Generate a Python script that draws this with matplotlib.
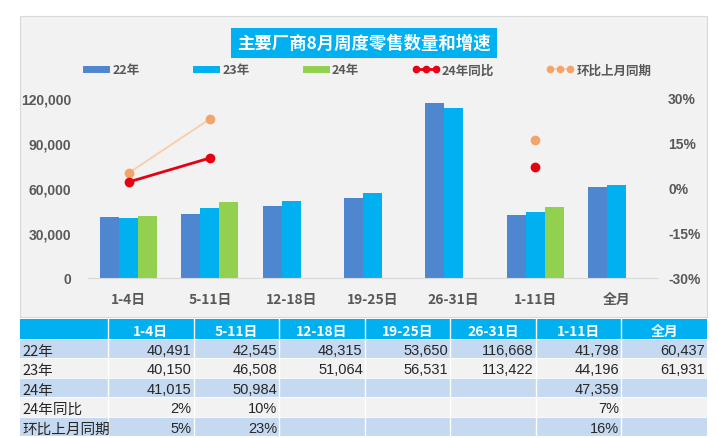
import numpy as np
import matplotlib

matplotlib.use("Agg")
import matplotlib.pyplot as plt
from matplotlib.lines import Line2D
from matplotlib.patches import Rectangle

plt.rcParams["font.family"] = ["Liberation Sans", "Noto Sans CJK SC", "DejaVu Sans"]

title = "主要厂商8月周度零售数量和增速"
categories = ["1-4日", "5-11日", "12-18日", "19-25日", "26-31日", "1-11日", "全月"]
sales_22 = [40491, 42545, 48315, 53650, 116668, 41798, 60437]
sales_23 = [40150, 46508, 51064, 56531, 113422, 44196, 61931]
sales_24 = [41015, 50984, None, None, None, 47359, None]
yoy_24 = [0.02, 0.10, None, None, None, 0.07, None]
mom = [0.05, 0.23, None, None, None, 0.16, None]
row_names = ["22年", "23年", "24年", "24年同比", "环比上月同期"]

C22, C23, C24 = "#4f86d0", "#00b0f0", "#92d050"
RED, ORANGE, PEACH = "#e60012", "#f4a46a", "#f8cdaa"
TXT = "#595959"
CJK = ["Noto Sans CJK SC", "DejaVu Sans"]

W, H = 718, 439
fig = plt.figure(figsize=(W / 100, H / 100), dpi=100)
fig.patch.set_facecolor("white")

# gray panel behind the chart
fig.patches.append(Rectangle((20 / W, 1 - 318 / H), 687 / W, 301 / H,
                             transform=fig.transFigure, facecolor="#f2f2f2",
                             edgecolor="#d9d9d9", lw=0.8, zorder=-5))

ax = fig.add_axes([88 / W, 160 / H, 569 / W, 180 / H])
ax.set_facecolor("none")
x = np.arange(len(categories))
bw = 0.234


def nums(vals):
    return np.array([np.nan if v is None else v for v in vals], dtype=float)


ax.bar(x - bw, sales_22, bw, color=C22, zorder=2)
ax.bar(x, sales_23, bw, color=C23, zorder=2)
ax.bar(x + bw, nums(sales_24), bw, color=C24, zorder=2)
ax.set_xlim(-0.5, 6.5)
ax.set_ylim(0, 120000)
ax.set_yticks(np.arange(0, 120001, 30000))
ax.set_yticklabels([f"{v:,}" for v in range(0, 120001, 30000)])
ax.set_xticks(x)
ax.set_xticklabels(categories)
for s in ["top", "left", "right"]:
    ax.spines[s].set_visible(False)
ax.spines["bottom"].set_color("#d9d9d9")
ax.tick_params(length=0, colors=TXT, labelsize=10)
ax.tick_params(axis="y", pad=12)
ax.tick_params(axis="x", pad=10)
for lbl in ax.get_xticklabels() + ax.get_yticklabels():
    lbl.set_fontweight("bold")
for lbl in ax.get_xticklabels():
    lbl.set_family(CJK)

ax2 = ax.twinx()
ax2.set_ylim(-0.3, 0.3)
ax2.set_yticks([-0.3, -0.15, 0, 0.15, 0.3])
ax2.set_yticklabels(["-30%", "-15%", "0%", "15%", "30%"])
for s in ax2.spines.values():
    s.set_visible(False)
ax2.tick_params(length=0, colors=TXT, labelsize=10, pad=8)
for lbl in ax2.get_yticklabels():
    lbl.set_fontweight("bold")
ax2.plot(x, nums(mom), color=PEACH, lw=1.3, marker="o", ms=6,
         mfc=ORANGE, mec=ORANGE, zorder=3)
ax2.plot(x, nums(yoy_24), color=RED, lw=2, marker="o", ms=6,
         mfc=RED, mec=RED, zorder=4)

# title box
fig.text(364 / W, 1 - 44 / H, title, ha="center", va="center", color="white",
         fontsize=12.5, fontweight="bold", family=CJK,
         bbox=dict(boxstyle="square,pad=0.35", fc="#00b0f0", ec="none"))

handles = [
    Line2D([], [], color=C22, lw=5),
    Line2D([], [], color=C23, lw=5),
    Line2D([], [], color=C24, lw=5),
    Line2D([], [], color=RED, lw=2, marker="o", ms=4.5),
    Line2D([], [], color=PEACH, lw=1.3, marker="o", ms=4.5, mfc=ORANGE, mec=ORANGE),
]
leg = fig.legend(handles, row_names, loc="center",
                 bbox_to_anchor=(367 / W, 1 - 71 / H), ncol=5, frameon=False,
                 handlelength=2.2, handletextpad=0.2, columnspacing=4.2,
                 numpoints=3, prop={"family": CJK, "size": 9})
for t in leg.get_texts():
    t.set_color(TXT)
    t.set_fontweight("bold")

# data table
tab = fig.add_axes([20 / W, 2 / H, 687 / W, 117 / H])
tab.set_xlim(0, 687)
tab.set_ylim(6, 0)
tab.axis("off")
first_w = 88
col_w = (687 - first_w) / len(categories)
col_x = [first_w + i * col_w for i in range(len(categories))]

tab.add_patch(Rectangle((0, 0), 687, 1, fc="#00b0f0", ec="none"))
for i, c in enumerate(categories):
    tab.text(col_x[i] + col_w / 2, 0.55, c, ha="center", va="center_baseline",
             color="white", fontsize=10, fontweight="bold", family=CJK)

row_vals = [sales_22, sales_23, sales_24, yoy_24, mom]
for r, (name, vals) in enumerate(zip(row_names, row_vals)):
    fc = "#c5d9f1" if r % 2 == 0 else "#f2f2f2"
    tab.add_patch(Rectangle((0, r + 1), 687, 1, fc=fc, ec="none"))
    tab.text(2, r + 1.55, name, ha="left", va="center_baseline", color="#262626",
             fontsize=10.5, family=CJK)
    for i, v in enumerate(vals):
        if v is None:
            continue
        s = f"{v:.0%}" if r >= 3 else f"{v:,}"
        tab.text(col_x[i] + col_w - 2, r + 1.5, s, ha="right", va="center_baseline",
                 color="#262626", fontsize=10.5)
for cx in col_x:
    tab.plot([cx, cx], [0, 6], color="white", lw=1)
for r in range(1, 6):
    tab.plot([0, 687], [r, r], color="white", lw=0.6)

fig.savefig("out.png", dpi=100)
